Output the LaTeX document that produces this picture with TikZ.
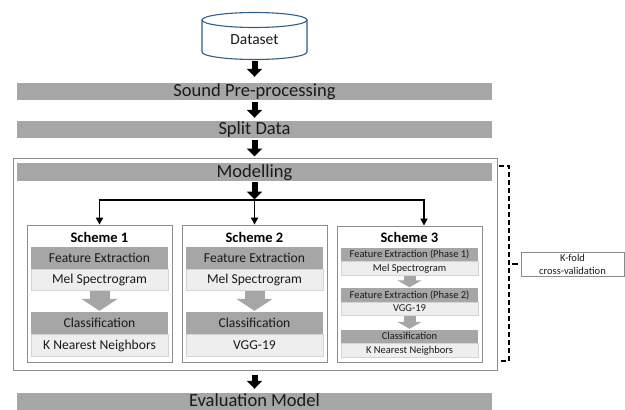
\documentclass[tikz,border=0pt]{standalone}
\usepackage{fontspec}
\setmainfont{Carlito}
\usetikzlibrary{arrows.meta}
\definecolor{barg}{HTML}{A6A6A6}
\definecolor{lightg}{HTML}{EEEEEE}
\definecolor{lightb}{HTML}{D4D4D4}
\definecolor{boxg}{HTML}{8C8C8C}
\definecolor{cylb}{HTML}{2E5D8C}
\definecolor{txt}{HTML}{1A1A1A}
\begin{document}
\begin{tikzpicture}[x=1pt,y=-1pt,
  mainbar/.style={fill=barg, minimum width=475pt, inner sep=0pt, text=txt,
    font=\fontsize{18.5}{18.5}\selectfont, text height=11.9pt, text depth=0pt},
  darkbar/.style={fill=barg, minimum width=137pt, inner sep=0pt, text=txt,
    font=\fontsize{13.6}{13.6}\selectfont, text height=8.8pt, text depth=0pt},
  lightbar/.style={fill=lightg, draw=lightb, line width=0.6pt, minimum width=137pt, inner sep=0pt, text=txt,
    font=\fontsize{13.6}{13.6}\selectfont, text height=8.8pt, text depth=0pt},
  darksm/.style={darkbar, font=\fontsize{10.5}{10.5}\selectfont, text height=6.8pt},
  lightsm/.style={lightbar, font=\fontsize{10.5}{10.5}\selectfont, text height=6.8pt},
  schemebox/.style={draw=boxg, line width=0.8pt, fill=white, minimum width=145pt, minimum height=137pt, inner sep=0pt},
  schemetitle/.style={font=\fontsize{14.5}{14.5}\bfseries\selectfont, text=black, inner sep=0pt},
  blk/.style={draw=black, line width=6pt, -{Triangle[width=15pt,length=8pt]}},
  tarr/.style={draw=black, line width=1.8pt, -{Triangle[width=7pt,length=7pt]}},
  garr/.style={draw=barg, line width=20pt, -{Triangle[width=36pt,length=12pt]}},
  garrsm/.style={draw=barg, line width=12pt, -{Triangle[width=24pt,length=7pt]}},
  bracket/.style={draw=black, line width=1.3pt, dash pattern=on 5pt off 3pt},
]
\useasboundingbox (0,0) rectangle (625,410);

% Dataset cylinder
\node[minimum width=105pt, minimum height=48pt, inner sep=0pt] (ds) at (254.5,36) {};
\draw[cylb, line width=1.1pt, fill=white] (202,20) -- (202,52)
  arc[start angle=180, end angle=0, x radius=52.5, y radius=7.5] -- (307,20);
\draw[cylb, line width=1.1pt] (254.5,20) ellipse [x radius=52.5, y radius=7.5];
\node[font=\fontsize{15.5}{15.5}\selectfont, inner sep=0pt, text=txt] (dst) at (254.5,40) {Dataset};

% main bars
\node[mainbar, minimum height=17pt] (sp) at (254.5,91) {Sound Pre-processing};
\node[mainbar, minimum height=17pt] (sd) at (254.5,129) {Split Data};

% modelling container
\node[draw=boxg, line width=1pt, minimum width=484pt, minimum height=212pt, inner sep=0pt] (mbox) at (255,264) {};
\node[mainbar, minimum height=18pt] (mod) at (254.5,171.5) {Modelling};

\node[mainbar, minimum height=17pt] (ev) at (254.5,401.5) {};
\node[font=\fontsize{18.5}{18.5}\selectfont, text=txt, inner sep=0pt, text height=11.9pt, text depth=0pt] (evt) at (254.5,400.5) {Evaluation Model};

% black block arrows
\draw[blk, shorten <=1pt, shorten >=5.5pt] (ds.south) -- (ds.south |- sp.north);
\draw[blk, shorten <=2.5pt, shorten >=2.5pt] (sp.south) -- (sd.north);
\draw[blk, shorten <=2.5pt, shorten >=1pt] (sd.south) -- (sd.south |- mbox.north);
\draw[blk, shorten <=4pt, shorten >=4pt] (mbox.south -| ev.north) -- (ev.north);

% schemes
\node[schemebox] (s1) at (99.5,293.5) {};
\node[schemebox] (s2) at (254.5,293.5) {};
\node[schemebox, minimum height=136pt] (s3) at (409.5,294) {};

% branching
\coordinate (br) at (254.5,200);
\draw[blk, shorten <=1.5pt, shorten >=0.5pt] (mod.south) -- (br);
\draw[tarr] (br) -| (s1.north);
\draw[tarr] (br) -- (s2.north);
\draw[tarr] (br) -| ([xshift=14.5pt]s3.north);

% Scheme 1
\node[schemetitle] (t1) at (99.5,237) {Scheme 1};
\node[darkbar, minimum height=22pt] (fe1) at (99.5,258) {Feature Extraction};
\node[lightbar, minimum height=21pt] (mel1) at (99.5,279.5) {Mel Spectrogram};
\node[darkbar, minimum height=22pt] (cl1) at (99.5,323) {Classification};
\node[lightbar, minimum height=22pt] (kn1) at (99.5,345) {K Nearest Neighbors};
\draw[garr, shorten <=1pt, shorten >=1pt] (mel1.south) -- (cl1.north);

% Scheme 2
\node[schemetitle] (t2) at (254.5,237) {Scheme 2};
\node[darkbar, minimum height=22pt] (fe2) at (254.5,258) {Feature Extraction};
\node[lightbar, minimum height=21pt] (mel2) at (254.5,279.5) {Mel Spectrogram};
\node[darkbar, minimum height=22pt] (cl2) at (254.5,323) {Classification};
\node[lightbar, minimum height=22pt] (vg2) at (254.5,345) {VGG-19};
\draw[garr, shorten <=1pt, shorten >=1pt] (mel2.south) -- (cl2.north);

% Scheme 3
\node[schemetitle] (t3) at (409.5,237) {Scheme 3};
\node[darksm, minimum height=13pt] (p1) at (409.5,254.5) {Feature Extraction (Phase 1)};
\node[lightsm, minimum height=14pt] (mel3) at (409.5,268) {Mel Spectrogram};
\node[darksm, minimum height=14pt] (p2) at (409.5,295) {Feature Extraction (Phase 2)};
\node[lightsm, minimum height=13pt] (vg3) at (409.5,308.5) {VGG-19};
\node[darksm, minimum height=13pt] (cl3) at (409.5,336.5) {Classification};
\node[lightsm, minimum height=14pt] (kn3) at (409.5,350) {K Nearest Neighbors};
\draw[garrsm, shorten <=1pt, shorten >=0.5pt] (mel3.south) -- (p2.north);
\draw[garrsm, shorten <=1pt, shorten >=1pt] (vg3.south) -- (cl3.north);

% K-fold bracket
\node[draw=boxg, line width=0.8pt, minimum width=103pt, minimum height=24pt, inner sep=0pt,
  align=center, font=\fontsize{10.5}{13}\selectfont, text=txt] (kf) at (572.5,264)
  {K-fold\\cross-validation};
\coordinate (bt) at (499,166);
\coordinate (bb) at (499,361);
\draw[bracket] (bt) -- (509,166) -- (509,361) -- (bb);
\coordinate (bm) at (512,264);
\draw[line width=1.3pt, shorten >=3pt] (bm) -- (kf.west);
\end{tikzpicture}
\end{document}
